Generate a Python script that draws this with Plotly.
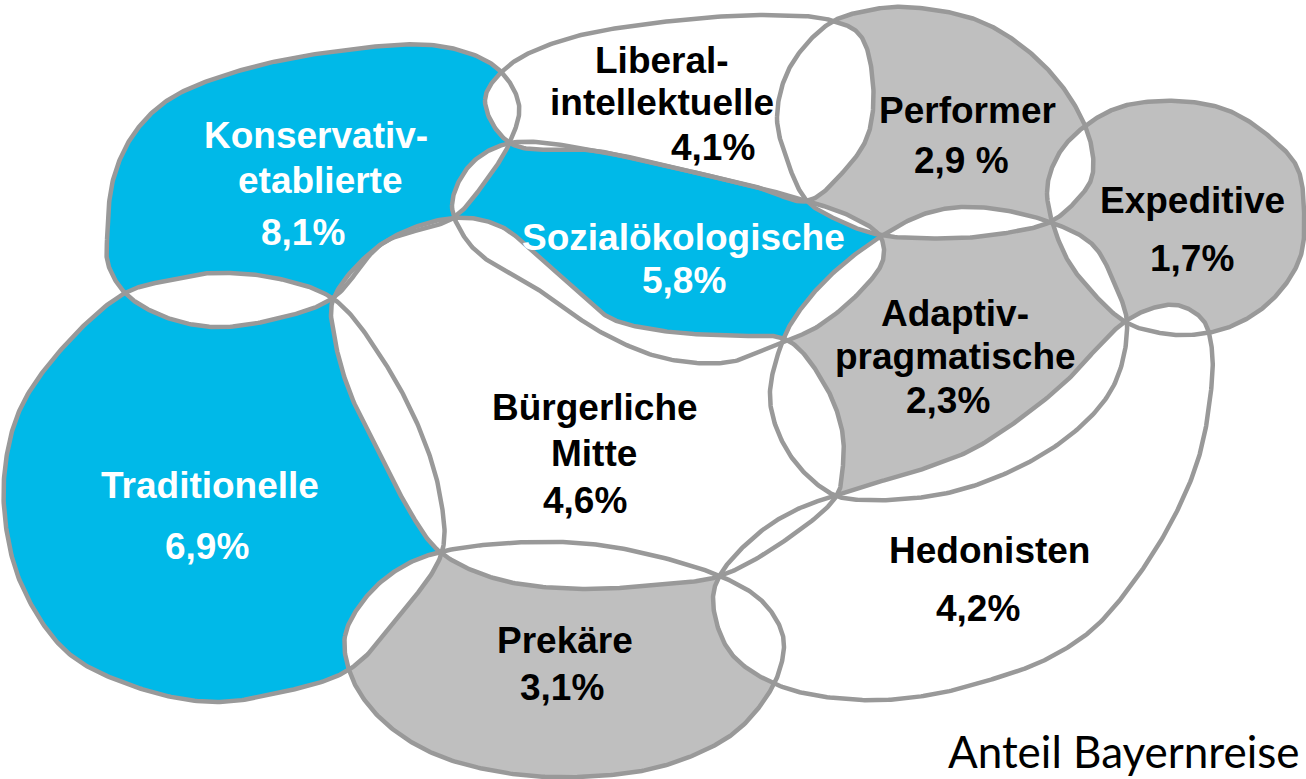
import numpy as np
import plotly.graph_objects as go

# Sinus-Milieus: Anteil Bayernreise
milieus = ["Konservativ-etablierte", "Liberal-intellektuelle", "Performer", "Expeditive",
           "Sozialökologische", "Adaptiv-pragmatische", "Bürgerliche Mitte",
           "Traditionelle", "Prekäre", "Hedonisten"]
zeilen = [["Konservativ-", "etablierte"], ["Liberal-", "intellektuelle"], ["Performer"],
          ["Expeditive"], ["Sozialökologische"], ["Adaptiv-", "pragmatische"],
          ["Bürgerliche", "Mitte"], ["Traditionelle"], ["Prekäre"], ["Hedonisten"]]
anteil = [8.1, 4.1, 2.9, 1.7, 5.8, 2.3, 4.6, 6.9, 3.1, 4.2]
einheit = ["%", "%", " %", "%", "%", "%", "%", "%", "%", "%"]
segment = ["blau", "weiss", "grau", "grau", "blau", "grau", "weiss", "blau", "grau", "weiss"]
fusszeile = "Anteil Bayernreise"

# --- Layout: Umrisse der Milieus (Pixel, y nach unten) ---
UMRISS = {
    "Konservativ-etablierte": [(107, 240), (113, 180), (133, 135), (168, 100), (235, 72), (330, 52),
                               (440, 46), (497, 68), (519, 105), (510, 142), (485, 182), (453, 218),
                               (383, 243), (333, 298), (280, 318), (213, 327), (160, 315), (125, 293),
                               (108, 264)],
    "Liberal-intellektuelle": [(485, 100), (507, 67), (563, 40), (663, 22), (763, 15), (830, 20),
                               (860, 35), (873, 83), (868, 135), (845, 170), (807, 201), (760, 188),
                               (697, 173), (597, 151), (510, 143)],
    "Performer": [(777, 117), (790, 67), (830, 23), (870, 10), (907, 7), (977, 20), (1027, 50),
                  (1067, 93), (1090, 140), (1092, 177), (1077, 200), (1050, 222), (1000, 234),
                  (960, 238), (880, 235), (840, 221), (807, 201), (787, 160)],
    "Expeditive": [(1047, 193), (1057, 157), (1080, 130), (1120, 107), (1177, 101), (1227, 110),
                   (1270, 137), (1297, 167), (1304, 210), (1300, 258), (1272, 300), (1232, 326),
                   (1190, 335), (1160, 333), (1127, 323), (1093, 293), (1065, 255)],
    "Sozialökologische": [(452, 205), (470, 165), (510, 143), (597, 151), (697, 173), (760, 188),
                          (807, 201), (850, 216), (880, 236), (883, 260), (860, 292), (817, 327),
                          (783, 342), (730, 362), (663, 358), (597, 330), (547, 295), (487, 260),
                          (465, 238)],
    "Adaptiv-pragmatische": [(783, 340), (800, 310), (833, 273), (880, 237), (927, 213), (977, 207),
                             (1050, 222), (1093, 245), (1115, 285), (1127, 323), (1113, 387),
                             (1060, 443), (960, 490), (860, 500), (830, 493), (790, 455), (770, 400)],
    "Bürgerliche Mitte": [(333, 300), (383, 243), (453, 218), (500, 226), (540, 258), (573, 287),
                          (610, 318), (663, 331), (730, 336), (787, 340), (825, 385), (842, 430),
                          (843, 465), (837, 495), (790, 537), (720, 576), (663, 584), (580, 589),
                          (497, 579), (440, 552), (413, 517), (383, 460), (350, 393), (335, 340)],
    "Traditionelle": [(125, 293), (170, 280), (213, 273), (280, 279), (335, 300), (383, 360),
                      (420, 430), (440, 495), (442, 552), (400, 615), (350, 669), (283, 692),
                      (210, 702), (133, 686), (67, 652), (22, 586), (5, 519), (6, 460), (22, 405),
                      (67, 343)],
    "Prekäre": [(345, 636), (367, 596), (400, 568), (440, 552), (530, 542), (613, 547), (720, 576),
                (763, 602), (783, 636), (780, 669), (763, 702), (730, 736), (663, 766), (580, 777),
                (500, 772), (430, 752), (380, 718), (352, 678)],
    "Hedonisten": [(720, 575), (760, 532), (800, 508), (837, 495), (860, 487), (920, 470), (977, 447),
                   (1060, 387), (1100, 345), (1123, 323), (1147, 310), (1177, 305), (1203, 320),
                   (1212, 350), (1210, 400), (1198, 460), (1173, 519), (1135, 580), (1093, 629),
                   (1045, 660), (993, 679), (930, 695), (860, 700), (780, 686), (730, 652), (713, 602)],
}

# Mittelpunkte der Textzeilen (letzte Zeile = Prozentwert)
TEXT_XY = {
    "Konservativ-etablierte": [(316, 135), (320, 180), (303, 232)],
    "Liberal-intellektuelle": [(662, 60), (662, 102), (713, 147)],
    "Performer": [(967, 110), (961, 160)],
    "Expeditive": [(1192, 200), (1192, 258)],
    "Sozialökologische": [(683, 237), (684, 280)],
    "Adaptiv-pragmatische": [(955, 313), (955, 356), (948, 400)],
    "Bürgerliche Mitte": [(595, 407), (594, 453), (585, 500)],
    "Traditionelle": [(210, 485), (207, 546)],
    "Prekäre": [(565, 640), (562, 687)],
    "Hedonisten": [(989, 550), (978, 608)],
}

FARBE = {"blau": "#00B9E8", "grau": "#BFBFBF", "weiss": "#FFFFFF"}
LINIE = "#999999"


def kurve(punkte, n=30):
    # geschlossene Catmull-Rom-Kurve (zentripetal)
    P = np.asarray(punkte, float)
    N = len(P)
    teile = []
    for i in range(N):
        p0, p1, p2, p3 = P[i - 1], P[i], P[(i + 1) % N], P[(i + 2) % N]
        t0 = 0.0
        t1 = t0 + np.hypot(*(p1 - p0)) ** 0.5
        t2 = t1 + np.hypot(*(p2 - p1)) ** 0.5
        t3 = t2 + np.hypot(*(p3 - p2)) ** 0.5
        t = np.linspace(t1, t2, n, endpoint=False)[:, None]
        a1 = (t1 - t) / (t1 - t0) * p0 + (t - t0) / (t1 - t0) * p1
        a2 = (t2 - t) / (t2 - t1) * p1 + (t - t1) / (t2 - t1) * p2
        a3 = (t3 - t) / (t3 - t2) * p2 + (t - t2) / (t3 - t2) * p3
        b1 = (t2 - t) / (t2 - t0) * a1 + (t - t0) / (t2 - t0) * a2
        b2 = (t3 - t) / (t3 - t1) * a2 + (t - t1) / (t3 - t1) * a3
        teile.append((t2 - t) / (t2 - t1) * b1 + (t - t1) / (t2 - t1) * b2)
    c = np.vstack(teile)
    x, y = c[:, 0], c[:, 1]
    if np.sum(x * np.roll(y, -1) - np.roll(x, -1) * y) < 0:
        c = c[::-1]
    return c


def innen(pts, poly):
    x, y = pts[:, 0][:, None], pts[:, 1][:, None]
    px, py = poly[:, 0][None, :], poly[:, 1][None, :]
    qx, qy = np.roll(poly[:, 0], -1)[None, :], np.roll(poly[:, 1], -1)[None, :]
    kreuz = (py > y) != (qy > y)
    dy = np.where(qy == py, 1e-9, qy - py)
    xs = px + (y - py) * (qx - px) / dy
    return (np.sum(kreuz & (x < xs), axis=1) % 2) == 1


def laeufe(maske):
    n = len(maske)
    if not maske.any():
        return []
    if maske.all():
        return [np.arange(n)]
    s = int(np.argmin(maske))
    out, cur = [], []
    for k in (np.arange(n) + s) % n:
        if maske[k]:
            cur.append(k)
        elif cur:
            out.append(cur)
            cur = []
    if cur:
        out.append(cur)
    return [np.array(r) for r in out if len(r) > 1]


def schnitt(a, b):
    ra = laeufe(innen(a, b))
    rb = laeufe(innen(b, a))
    flaechen = []
    for r in ra:
        ende = a[r[-1]]
        stuecke = [a[r]]
        if rb:
            d = [np.hypot(*(b[q[0]] - ende)) for q in rb]
            k = int(np.argmin(d))
            if d[k] < 40:
                stuecke.append(b[rb[k]])
        flaechen.append(np.vstack(stuecke))
    return flaechen


kurven = [kurve(UMRISS[m]) for m in milieus]

fig = go.Figure()

# Flächen
for m, seg, c in zip(milieus, segment, kurven):
    fig.add_trace(go.Scatter(x=np.append(c[:, 0], c[0, 0]), y=np.append(c[:, 1], c[0, 1]),
                             mode="lines", fill="toself", fillcolor=FARBE[seg],
                             line=dict(width=0, color=FARBE[seg]), hoverinfo="skip", name=m))

# Überschneidungen weiß
for i in range(len(kurven)):
    for j in range(i + 1, len(kurven)):
        for f in schnitt(kurven[i], kurven[j]):
            fig.add_trace(go.Scatter(x=np.append(f[:, 0], f[0, 0]), y=np.append(f[:, 1], f[0, 1]),
                                     mode="lines", fill="toself", fillcolor="#FFFFFF",
                                     line=dict(width=0, color="#FFFFFF"), hoverinfo="skip"))

# Umrisse
for c in kurven:
    fig.add_trace(go.Scatter(x=np.append(c[:, 0], c[0, 0]), y=np.append(c[:, 1], c[0, 1]),
                             mode="lines", line=dict(width=4.5, color=LINIE), hoverinfo="skip"))

# Beschriftung
for m, z, a, e, seg in zip(milieus, zeilen, anteil, einheit, segment):
    farbe = "white" if seg == "blau" else "black"
    texte = z + [f"{a:.1f}".replace(".", ",") + e]
    for t, (x, y) in zip(texte, TEXT_XY[m]):
        fig.add_annotation(x=x, y=y, xref="x", yref="y", text=f"<b>{t}</b>", showarrow=False,
                           xanchor="center", yanchor="middle",
                           font=dict(family="Liberation Sans, Arial", size=37, color=farbe))

fig.add_annotation(x=1302, y=751, xref="x", yref="y", text=fusszeile, showarrow=False,
                   xanchor="right", yanchor="middle",
                   font=dict(family="Lato, Liberation Sans", size=44, color="black"))

fig.update_layout(
    width=1306, height=779,
    margin=dict(l=0, r=0, t=0, b=0),
    plot_bgcolor="white", paper_bgcolor="white",
    showlegend=False,
    xaxis=dict(range=[0, 1306], visible=False, fixedrange=True),
    yaxis=dict(range=[779, 0], visible=False, fixedrange=True),
)

fig.write_html("out.html", config={"displayModeBar": False},
               post_script="document.body.style.margin='0';document.body.style.overflow='hidden';")
